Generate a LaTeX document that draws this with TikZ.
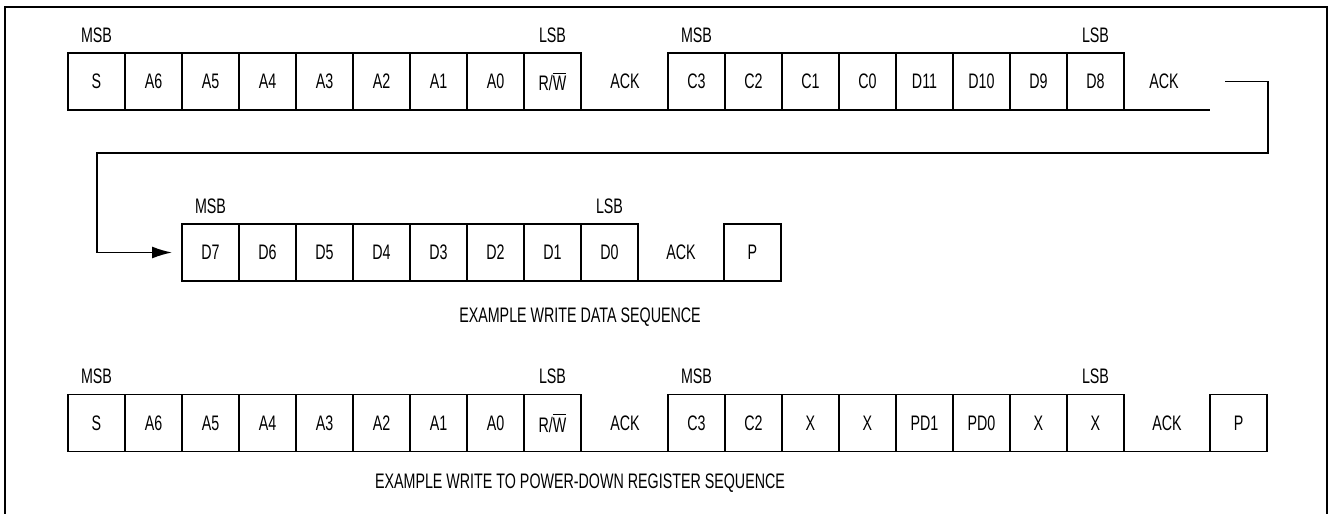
\documentclass[tikz,border=0pt]{standalone}
\usepackage{fontspec}
\setmainfont{Liberation Sans}[FakeStretch=0.68]
\usetikzlibrary{positioning,arrows.meta}
\tikzset{
  cell/.style={draw, line width=0.75pt, minimum width=28.5pt, minimum height=28.5pt, inner sep=0pt, outer sep=0pt},
  ackcell/.style={minimum width=43pt, minimum height=28.5pt, inner sep=0pt, outer sep=0pt},
  bitlabel/.style={inner sep=0pt},
  bus/.style={line width=0.75pt},
}
\newcommand{\rwbar}{R/$\overline{\hbox{W}}$}

\begin{document}
\begin{tikzpicture}[x=0.5pt,y=-0.5pt,font=\fontsize{10.5}{12}\selectfont]
      \useasboundingbox (0,0) rectangle (1328,514);
      \draw[line width=1pt] (5,514) -- (5,7) -- (1327,7) -- (1327,514);

      \foreach \t [count=\i] in {S,A6,A5,A4,A3,A2,A1,A0,\rwbar}
        \node[cell] (ra\i) at ({39.5+57*\i},81.5) {\t};
      \node[ackcell] (acka) at (625,81.5) {ACK};
      \foreach \t [count=\i] in {C3,C2,C1,C0,D11,D10,D9,D8}
        \node[cell] (rb\i) at ({639.5+57*\i},81.5) {\t};
      \node[ackcell] (ackb) at (1164,81.5) {ACK};
      \draw[bus] (ra9.south east) -- (rb1.south west);
      \draw[bus] (rb8.south east) -- ++(43pt,0);
      \node[bitlabel, above=5pt of ra1] {MSB};
      \node[bitlabel, above=5pt of ra9] {LSB};
      \node[bitlabel, above=5pt of rb1] {MSB};
      \node[bitlabel, above=5pt of rb8] {LSB};

      \foreach \t [count=\i] in {D7,D6,D5,D4,D3,D2,D1,D0}
        \node[cell] (rd\i) at ({153.5+57*\i},252.5) {\t};
      \node[ackcell] (ackc) at (681,252.5) {ACK};
      \node[cell] (stopc) at (752.5,252.5) {P};
      \draw[bus] (rd8.south east) -- (stopc.south west);
      \node[bitlabel, above=5pt of rd1] {MSB};
      \node[bitlabel, above=5pt of rd8] {LSB};
      \node (capa) at (580,317) {EXAMPLE WRITE DATA SEQUENCE};

      \coordinate (loopr) at (1268,153);
      \coordinate (loopl) at (97,153);
      \draw[bus,-{Latex[length=10pt,width=6pt]},shorten >=5pt]
        ([xshift=9pt]ackb.east) -| (loopr) -- (loopl) |- (rd1.west);

      \foreach \t [count=\i] in {S,A6,A5,A4,A3,A2,A1,A0,\rwbar}
        \node[cell] (re\i) at ({39.5+57*\i},423) {\t};
      \node[ackcell] (acke) at (625,423) {ACK};
      \foreach \t [count=\i] in {C3,C2,X,X,PD1,PD0,X,X}
        \node[cell] (rf\i) at ({639.5+57*\i},423) {\t};
      \node[ackcell] (ackf) at (1167,423) {ACK};
      \node[cell] (stopf) at (1238.5,423) {P};
      \draw[bus] (re9.south east) -- (rf1.south west);
      \draw[bus] (rf8.south east) -- (stopf.south west);
      \node[bitlabel, above=5pt of re1] {MSB};
      \node[bitlabel, above=5pt of re9] {LSB};
      \node[bitlabel, above=5pt of rf1] {MSB};
      \node[bitlabel, above=5pt of rf8] {LSB};
      \node (capb) at (580,483) {EXAMPLE WRITE TO POWER-DOWN REGISTER SEQUENCE};
     \end{tikzpicture}
\end{document}
